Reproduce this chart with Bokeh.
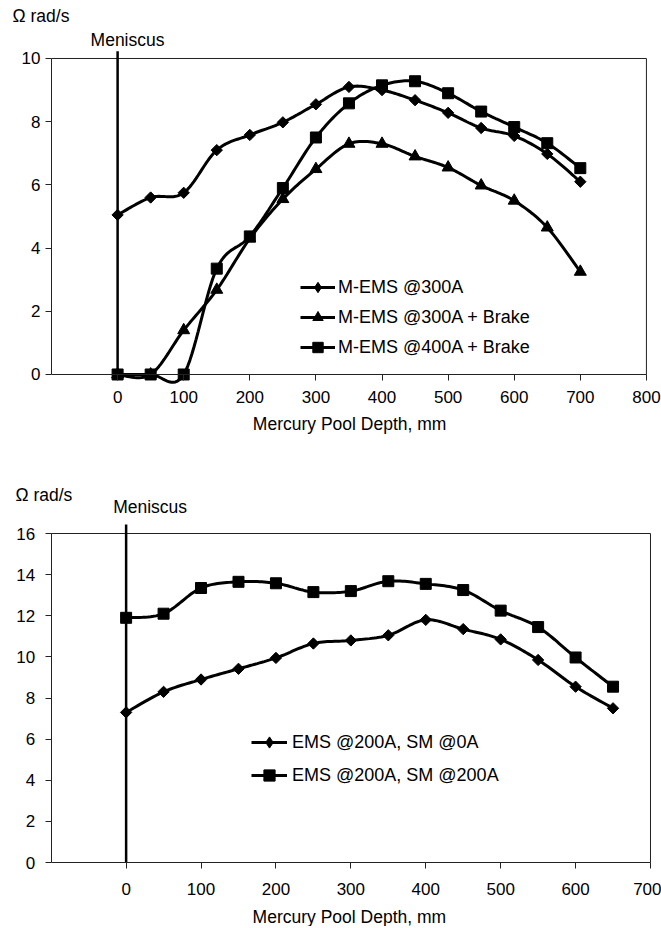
import numpy as np
from bokeh.plotting import figure
from bokeh.layouts import column
from bokeh.models import Range1d, FixedTicker, Label, Legend, LegendItem
from bokeh.embed import file_html
from bokeh.resources import INLINE

# ---------------- data: top chart ----------------
depth_top = [0, 50, 100, 150, 200, 250, 300, 350, 400, 450, 500, 550, 600, 650, 700]
mems_300 = [5.05, 5.6, 5.75, 7.1, 7.58, 7.98, 8.55, 9.1, 9.0, 8.68, 8.28, 7.8, 7.55, 6.98, 6.1]
mems_300_brake = [0.0, 0.0, 1.4, 2.68, 4.3, 5.55, 6.5, 7.3, 7.3, 6.9, 6.55, 5.98, 5.5, 4.65, 3.25]
mems_400_brake = [0.0, 0.0, 0.0, 3.35, 4.37, 5.9, 7.5, 8.58, 9.15, 9.28, 8.9, 8.32, 7.83, 7.32, 6.53]
top_labels = ["M-EMS @300A", "M-EMS @300A + Brake", "M-EMS @400A + Brake"]
top_xticks = [0, 100, 200, 300, 400, 500, 600, 700, 800]
top_yticks = [0, 2, 4, 6, 8, 10]

# ---------------- data: bottom chart ----------------
depth_bot = [0, 50, 100, 150, 200, 250, 300, 350, 400, 450, 500, 550, 600, 650]
ems_sm0 = [7.3, 8.3, 8.9, 9.42, 9.95, 10.65, 10.8, 11.05, 11.8, 11.35, 10.85, 9.85, 8.55, 7.5]
ems_sm200 = [11.9, 12.1, 13.35, 13.65, 13.58, 13.15, 13.2, 13.68, 13.55, 13.25, 12.25, 11.45, 9.97, 8.55]
bot_labels = ["EMS @200A, SM @0A", "EMS @200A, SM @200A"]
bot_xticks = [0, 100, 200, 300, 400, 500, 600, 700]
bot_yticks = [0, 2, 4, 6, 8, 10, 12, 14, 16]

X_TITLE = "Mercury Pool Depth, mm"
Y_TITLE = "Ω rad/s"
MARK = "Meniscus"

FONT = "Liberation Sans"
INK = "#222222"


def smooth(xs, ys, n=16):
    """Catmull-Rom curve through the data points (drawing only)."""
    x = np.asarray(xs, float)
    y = np.asarray(ys, float)
    px = np.concatenate([[x[0]], x, [x[-1]]])
    py = np.concatenate([[y[0]], y, [y[-1]]])
    ox, oy = [], []
    t = np.linspace(0, 1, n, endpoint=False)
    for i in range(1, len(px) - 2):
        for arr, out in ((px, ox), (py, oy)):
            p0, p1, p2, p3 = arr[i - 1], arr[i], arr[i + 1], arr[i + 2]
            out.extend(0.5 * ((2 * p1) + (-p0 + p2) * t
                              + (2 * p0 - 5 * p1 + 4 * p2 - p3) * t ** 2
                              + (-p0 + 3 * p1 - 3 * p2 + p3) * t ** 3))
    ox.append(x[-1])
    oy.append(y[-1])
    return ox, oy


def make_fig(width, height, box_x, box_y, x_rng, y_rng, xticks, yticks,
             tick_standoff, ylab_standoff):
    p = figure(width=width, height=height,
               x_range=Range1d(*x_rng), y_range=Range1d(*y_rng),
               output_backend="svg", toolbar_location=None,
               min_border_left=0, min_border_right=0,
               min_border_top=0, min_border_bottom=0)
    p.grid.visible = False
    p.outline_line_color = None
    p.background_fill_color = "white"
    p.border_fill_color = "white"
    p.xaxis.ticker = FixedTicker(ticks=xticks)
    p.yaxis.ticker = FixedTicker(ticks=yticks)
    p.xaxis.bounds = box_x
    p.yaxis.bounds = box_y
    p.xaxis.fixed_location = box_y[0]
    p.yaxis.fixed_location = box_x[0]
    for ax in (p.xaxis[0], p.yaxis[0]):
        ax.axis_line_color = INK
        ax.axis_line_width = 1
        ax.major_tick_line_color = INK
        ax.major_tick_in = 0
        ax.major_tick_out = 6
        ax.minor_tick_line_color = None
        ax.major_label_text_font = FONT
        ax.major_label_text_font_size = "17px"
        ax.major_label_text_color = "black"
    p.xaxis.major_label_standoff = tick_standoff
    p.yaxis.major_label_standoff = ylab_standoff
    # top and right edges of the chart box
    p.segment(x0=[box_x[0], box_x[1]], y0=[box_y[1], box_y[0]],
              x1=[box_x[1], box_x[1]], y1=[box_y[1], box_y[1]],
              line_color=INK, line_width=1)
    return p


def add_series(p, xs, ys, marker, size, angle, legend_marker, legend_size):
    sx, sy = smooth(xs, ys)
    r1 = p.line(sx, sy, line_color="black", line_width=3)
    p.scatter(xs, ys, marker=marker, size=size, angle=angle,
              fill_color="black", line_color="black")
    # legend swatch marker (no visible points in the plot)
    r3 = p.scatter([np.nan], [np.nan], marker=legend_marker, size=legend_size,
                   fill_color="black", line_color="black")
    return [r1, r3]


def add_texts(p, ylab_xy, men_xy, men_top, xlab_xy):
    p.add_layout(Label(x=ylab_xy[0], y=ylab_xy[1], text=Y_TITLE, text_font=FONT,
                       text_font_size="17.5px", text_baseline="middle", text_color="black"))
    p.add_layout(Label(x=men_xy[0], y=men_xy[1], text=MARK, text_font=FONT,
                       text_font_size="17.5px", text_baseline="middle", text_align="center",
                       text_color="black"))
    p.add_layout(Label(x=xlab_xy[0], y=xlab_xy[1], text=X_TITLE, text_font=FONT,
                       text_font_size="17.5px", text_baseline="middle", text_align="center",
                       text_color="black"))
    p.segment(x0=[0], y0=[0], x1=[0], y1=[men_top], line_color="black", line_width=2.5)


# ---------------- top figure (page y 0..440) ----------------
# page px: box x -100..800 -> 51..646, y 0..10 -> 374..58
p1 = make_fig(661, 440, (-100, 800), (0, 10), (-177.16, 822.8), (-2.089, 11.835),
              top_xticks, top_yticks, 11, 5)
add_texts(p1, (-158.9, 11.36), (15, 10.57), 10.23, (351, -1.58))
items1 = []
for ys, mk, sz, ang, lmk, lsz, lab in zip(
        [mems_300, mems_300_brake, mems_400_brake],
        ["square", "triangle", "square"], [8, 12, 11], [np.pi / 4, 0.0, 0.0],
        ["diamond", "triangle", "square"], [12, 12, 11], top_labels):
    items1.append(LegendItem(label=lab, renderers=add_series(p1, depth_top, ys, mk, sz, ang, lmk, lsz)))
leg1 = Legend(items=items1, location=(300, 80), padding=0, margin=0, spacing=4,
              glyph_width=35, glyph_height=26, label_height=26, label_standoff=3,
              label_text_font=FONT, label_text_font_size="18px", label_text_color="black",
              border_line_color=None, background_fill_alpha=0)
p1.add_layout(leg1, "center")

# ---------------- bottom figure (page y 440..926) ----------------
# page px: box x -100..700 -> 50.7..650, y 0..16 -> 862..533
p2 = make_fig(661, 486, (-100, 700), (0, 16), (-167.7, 714.7), (-3.112, 20.523),
              bot_xticks, bot_yticks, 14, 10)
add_texts(p2, (-147.7, 17.87), (32, 17.27), 16.44, (298, -2.63))
items2 = []
for ys, mk, sz, ang, lmk, lsz, lab in zip(
        [ems_sm0, ems_sm200], ["square", "square"], [8, 11], [np.pi / 4, 0.0],
        ["diamond", "square"], [12, 11], bot_labels):
    items2.append(LegendItem(label=lab, renderers=add_series(p2, depth_bot, ys, mk, sz, ang, lmk, lsz)))
leg2 = Legend(items=items2, location=(251, 137), padding=0, margin=0, spacing=5,
              glyph_width=36, glyph_height=28, label_height=28, label_standoff=5,
              label_text_font=FONT, label_text_font_size="18px", label_text_color="black",
              border_line_color=None, background_fill_alpha=0)
p2.add_layout(leg2, "center")

layout = column(p1, p2, spacing=0)
open("out.html", "w").write(file_html(layout, INLINE))
